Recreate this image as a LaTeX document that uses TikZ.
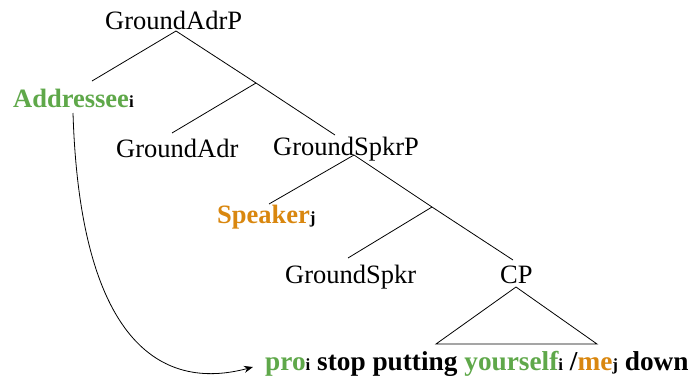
\documentclass[tikz,border=0pt]{standalone}
\usepackage{fontspec}
\setmainfont{Liberation Serif}
\usetikzlibrary{arrows.meta}
\definecolor{grn}{HTML}{5FA84A}
\definecolor{org}{HTML}{D9870F}
\newcommand{\idx}[1]{{\fontsize{17}{17}\selectfont\bfseries #1}}
\tikzset{
  lbl/.style={inner sep=0pt, anchor=base west, font=\fontsize{26.5}{30}\selectfont},
  blbl/.style={lbl, font=\fontsize{26.5}{30}\selectfont\bfseries},
  branch/.style={line width=0.8pt, black},
  link/.style={line width=0.8pt, -{Stealth[length=9pt,width=7pt]}}
}
\begin{document}
\begin{tikzpicture}[x=1pt,y=-1pt]
\useasboundingbox (0,0) rectangle (691,375);
% labels
\node[lbl]  (adrP)  at (105,29)  {GroundAdrP};
\node[blbl] (adee)  at (13,107)  {\textcolor{grn}{Addressee}\idx{i}};
\node[lbl]  (adr)   at (116,157) {GroundAdr};
\node[lbl]  (spkP)  at (273,155) {GroundSpkrP};
\node[blbl] (spkr)  at (217,223) {\textcolor{org}{Speaker}\idx{j}};
\node[lbl]  (gspk)  at (285,283) {GroundSpkr};
\node[lbl]  (cp)    at (500,283) {CP};
\node[blbl, font=\fontsize{27.3}{30}\selectfont\bfseries] (sent) at (265,370)
  {\textcolor{grn}{pro}\idx{i} stop putting \textcolor{grn}{yourself}\idx{i} /\textcolor{org}{me}\idx{j} down};
% attachment points
\coordinate (adrP-b) at (176,31);
\coordinate (adee-t) at (92,81);
\coordinate (br1)    at (256,83);
\coordinate (adr-t)  at (172,133);
\coordinate (spkP-t) at (335,135);
\coordinate (spkP-b) at (354,155);
\coordinate (spkr-t) at (269,204);
\coordinate (br2)    at (432,207);
\coordinate (gspk-t) at (348,258);
\coordinate (cp-t)   at (513,260);
\coordinate (cp-b)   at (516,287);
\coordinate (triL)   at (436,344);
\coordinate (triR)   at (597,344);
\coordinate (adee-b) at (73,113);
\coordinate (sent-w) at (253,367);
% tree branches
\draw[branch] (adee-t) -- (adrP-b) -- (br1);
\draw[branch] (adr-t) -- (br1) -- (spkP-t);
\draw[branch] (spkr-t) -- (spkP-b) -- (br2);
\draw[branch] (gspk-t) -- (br2) -- (cp-t);
\draw[branch] (cp-b) -- (triL) -- (triR) -- cycle;
% binding arrow
\draw[link] (adee-b) .. controls (80,340) and (160,392) .. (sent-w);
\end{tikzpicture}
\end{document}
